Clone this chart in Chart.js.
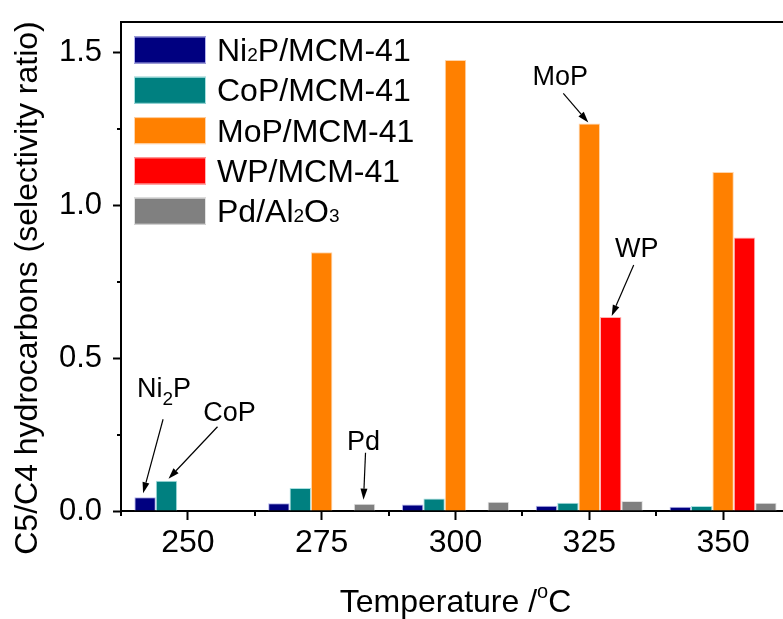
<!DOCTYPE html>
<html>
<head>
<meta charset="utf-8">
<title>C5/C4 selectivity ratio</title>
<script src="https://cdn.jsdelivr.net/npm/chart.js@4.4.1/dist/chart.umd.min.js"></script>
<style>
  html, body { margin: 0; padding: 0; background: #fff; overflow: hidden; }
  #wrap { width: 800px; height: 619px; }
</style>
</head>
<body>
<div id="wrap"><canvas id="chart" width="800" height="619"></canvas></div>
<script>
// Reaction temperatures (°C) and C5/C4 selectivity ratio per catalyst
const temperatures = ['250', '275', '300', '325', '350'];
const ni2pValues = [0.045, 0.025, 0.021, 0.017, 0.014];
const copValues  = [0.099, 0.075, 0.041, 0.027, 0.016];
const mopValues  = [null, 0.847, 1.476, 1.268, 1.109];
const wpValues   = [null, null, null, 0.635, 0.895];
const pdValues   = [null, 0.024, 0.030, 0.033, 0.027];
const seriesNames = ['Ni₂P/MCM-41', 'CoP/MCM-41', 'MoP/MCM-41', 'WP/MCM-41', 'Pd/Al₂O₃'];
const yTicks = [0, 0.5, 1.0, 1.5];
const yMinorTicks = [0.25, 0.75, 1.25];

const FONT = '"Liberation Sans", Arial, sans-serif';
const fills   = ['#000080', '#008080', '#ff8000', '#ff0000', '#808080'];
const borders = ['#b4b4ec', '#a8e0e0', '#ffd4aa', '#ffb4b4', '#e2e2e2'];

// callouts: which bar the arrow points at, offsets of tail and label from the tip
const callouts = [
  { text: 'Ni₂P', series: 0, cat: 0, tip: [-2, -4], tail: [20, -74], label: [21, -96] },
  { text: 'CoP',  series: 1, cat: 0, tip: [2, -2],  tail: [49, -52], label: [61, -58] },
  { text: 'Pd',   series: 4, cat: 1, tip: [-1, -4], tail: [2, -47],  label: [0, -50] },
  { text: 'MoP',  series: 2, cat: 3, tip: [-1, -1], tail: [-25, -29], label: [-28, -37] },
  { text: 'WP',   series: 3, cat: 3, tip: [1, -1],  tail: [22, -51], label: [25, -59] }
];

const SUBS = { '₂': '2', '₃': '3' };
const font = size => size + 'px ' + FONT;

// text with subscript digits drawn as smaller runs
function drawRich(ctx, text, x, y, size, subSize, subDrop, align) {
  const runs = [];
  for (const ch of text) {
    const sub = ch in SUBS;
    const c = sub ? SUBS[ch] : ch;
    const last = runs[runs.length - 1];
    if (last && last.sub === sub) last.text += c;
    else runs.push({ sub: sub, text: c });
  }
  let total = 0;
  runs.forEach(r => {
    ctx.font = font(r.sub ? subSize : size);
    r.w = ctx.measureText(r.text).width;
    total += r.w;
  });
  let cx = align === 'center' ? x - total / 2 : x;
  ctx.textAlign = 'left';
  ctx.textBaseline = 'alphabetic';
  runs.forEach(r => {
    ctx.font = font(r.sub ? subSize : size);
    ctx.fillText(r.text, cx, r.sub ? y + subDrop : y);
    cx += r.w;
  });
}

function arrow(ctx, x1, y1, x2, y2) {
  const ang = Math.atan2(y2 - y1, x2 - x1);
  const len = 11, half = 3.5;
  const bx = x2 - len * Math.cos(ang), by = y2 - len * Math.sin(ang);
  ctx.lineWidth = 1.2;
  ctx.beginPath();
  ctx.moveTo(x1, y1);
  ctx.lineTo(bx, by);
  ctx.stroke();
  ctx.beginPath();
  ctx.moveTo(x2, y2);
  ctx.lineTo(bx + half * Math.sin(ang), by - half * Math.cos(ang));
  ctx.lineTo(bx - half * Math.sin(ang), by + half * Math.cos(ang));
  ctx.closePath();
  ctx.fill();
}

const extras = {
  id: 'extras',
  afterDraw(chart) {
    const ctx = chart.ctx;
    const area = chart.chartArea;
    const xs = chart.scales.x, ys = chart.scales.y;
    ctx.save();
    ctx.strokeStyle = '#000';
    ctx.fillStyle = '#000';

    // top frame line
    ctx.lineWidth = 2;
    ctx.beginPath();
    ctx.moveTo(area.left - 1, area.top);
    ctx.lineTo(area.right, area.top);
    ctx.stroke();

    // minor ticks: category boundaries on x, quarter steps on y
    const step = xs.getPixelForValue(1) - xs.getPixelForValue(0);
    ctx.beginPath();
    for (let i = 0; i <= temperatures.length; i++) {
      const px = Math.round(xs.getPixelForValue(i) - step / 2);
      ctx.moveTo(px, area.bottom);
      ctx.lineTo(px, area.bottom + 5);
    }
    yMinorTicks.forEach(v => {
      const py = Math.round(ys.getPixelForValue(v));
      ctx.moveTo(area.left, py);
      ctx.lineTo(area.left - 4, py);
    });
    ctx.stroke();

    // axis titles
    ctx.save();
    ctx.translate(37, 288);
    ctx.rotate(-Math.PI / 2);
    ctx.font = font(32);
    ctx.textAlign = 'center';
    ctx.textBaseline = 'alphabetic';
    ctx.fillText('C5/C4 hydrocarbons (selectivity ratio)', 0, 0);
    ctx.restore();

    ctx.font = font(32);
    const t1 = 'Temperature /', t2 = 'C';
    const w1 = ctx.measureText(t1).width, w2 = ctx.measureText(t2).width;
    ctx.font = font(20);
    const wo = ctx.measureText('o').width;
    let tx = (area.left + area.right) / 2 - (w1 + wo + w2) / 2;
    ctx.textAlign = 'left';
    ctx.textBaseline = 'alphabetic';
    ctx.font = font(32);
    ctx.fillText(t1, tx, 612);
    ctx.font = font(20);
    ctx.fillText('o', tx + w1, 598);
    ctx.font = font(32);
    ctx.fillText(t2, tx + w1 + wo, 612);

    // legend
    chart.data.datasets.forEach((ds, i) => {
      const cy = 50 + i * 40.3;
      ctx.fillStyle = ds.backgroundColor;
      ctx.fillRect(134, cy - 13.5, 72, 27);
      ctx.strokeStyle = ds.borderColor;
      ctx.lineWidth = 1;
      ctx.strokeRect(134.5, cy - 13, 71, 26);
      ctx.fillStyle = '#000';
      drawRich(ctx, seriesNames[i], 217, cy + 11, 32, 19, 0, 'left');
    });

    // callout arrows
    ctx.strokeStyle = '#000';
    ctx.fillStyle = '#000';
    callouts.forEach(c => {
      const bar = chart.getDatasetMeta(c.series).data[c.cat];
      const tipX = bar.x + c.tip[0], tipY = bar.y + c.tip[1];
      arrow(ctx, tipX + c.tail[0], tipY + c.tail[1], tipX, tipY);
      drawRich(ctx, c.text, tipX + c.label[0], tipY + c.label[1], 27, 19, 8, 'center');
    });
    ctx.restore();
  }
};

const seriesValues = [ni2pValues, copValues, mopValues, wpValues, pdValues];

new Chart(document.getElementById('chart'), {
  type: 'bar',
  data: {
    labels: temperatures,
    datasets: seriesValues.map((vals, i) => ({
      label: seriesNames[i],
      data: vals,
      backgroundColor: fills[i],
      borderColor: borders[i],
      borderWidth: 1,
      categoryPercentage: 0.8,
      barPercentage: 1.0
    }))
  },
  options: {
    responsive: false,
    animation: false,
    layout: { padding: { top: 22, right: 10, left: 0, bottom: 0 } },
    plugins: {
      legend: { display: false },
      tooltip: { enabled: false }
    },
    scales: {
      x: {
        afterFit: s => { s.height = 108; s.paddingLeft = 0; s.paddingRight = 0; },
        grid: {
          offset: false,
          drawOnChartArea: false,
          tickLength: 9,
          tickWidth: 2,
          tickColor: '#000'
        },
        border: { display: true, color: '#000', width: 2 },
        ticks: { color: '#000', padding: 4, font: { family: FONT, size: 32 } }
      },
      y: {
        min: 0,
        max: 1.6,
        afterFit: s => { s.width = 121; s.paddingTop = 0; s.paddingBottom = 0; },
        afterBuildTicks: s => { s.ticks = yTicks.map(v => ({ value: v })); },
        grid: {
          drawOnChartArea: false,
          tickLength: 8,
          tickWidth: 2,
          tickColor: '#000'
        },
        border: { display: true, color: '#000', width: 2 },
        ticks: {
          color: '#000',
          padding: 11,
          font: { family: FONT, size: 31 },
          callback: v => Number(v).toFixed(1)
        }
      }
    }
  },
  plugins: [extras]
});
</script>
</body>
</html>
